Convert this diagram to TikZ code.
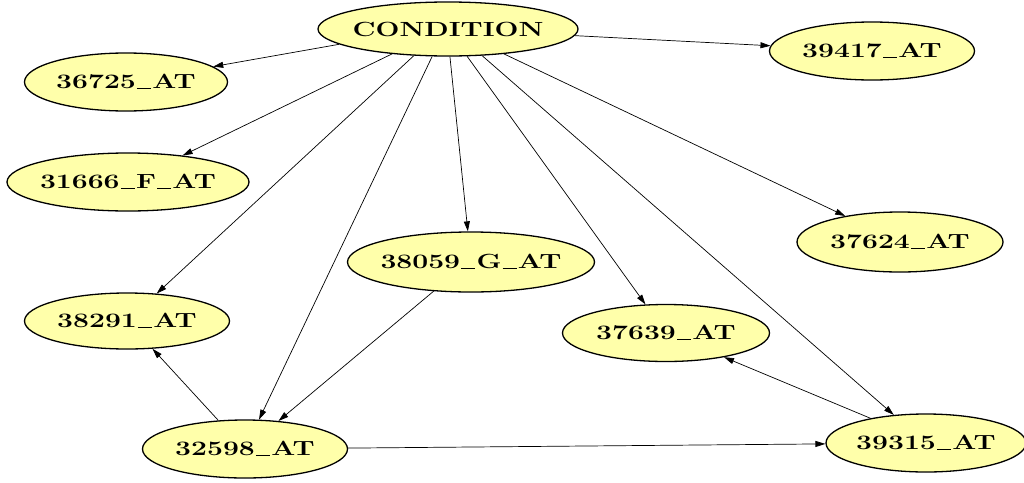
\documentclass[tikz,border=0pt]{standalone}
\usepackage{fontspec}
\usepackage{graphicx}
\usetikzlibrary{shapes.geometric,arrows.meta}
\definecolor{nodefill}{RGB}{255,255,170}
% short underscore rule used inside the labels
\newcommand\us{\kern0.04em\rule[-0.03em]{0.5em}{0.075em}\kern0.04em}
% wide bold label, centred, not affecting the node size
\newcommand\glabel[1]{\makebox[0pt]{\scalebox{1.38}[1]{\fontsize{20.5}{24}\selectfont\bfseries #1}}}
\begin{document}
\begin{tikzpicture}[x=1pt,y=-1pt,
  gene/.style={ellipse,draw=black,line width=1.3pt,fill=nodefill,
    inner sep=0pt,minimum width=#1,minimum height=58pt},
  edge/.style={draw=black,line width=0.7pt,-{Triangle[length=10pt,width=6pt]}}]
\useasboundingbox (0,0) rectangle (1024,482);

\node[gene=260pt,minimum height=54pt] (cond) at (448,29) {\glabel{CONDITION}};
\node[gene=203pt] (n36725) at (126,82)  {\glabel{36725\us AT}};
\node[gene=242pt] (n31666) at (128,182) {\glabel{31666\us F\us AT}};
\node[gene=205pt,minimum height=56pt] (n38291) at (127,321) {\glabel{38291\us AT}};
\node[gene=205pt] (n32598) at (245,449) {\glabel{32598\us AT}};
\node[gene=247pt,minimum height=60pt] (n38059) at (471,262) {\glabel{38059\us G\us AT}};
\node[gene=207pt,minimum height=57pt] (n37639) at (666,333) {\glabel{37639\us AT}};
\node[gene=200pt] (n39315) at (926,443) {\glabel{39315\us AT}};
\node[gene=206pt,minimum height=60pt] (n37624) at (900,242) {\glabel{37624\us AT}};
\node[gene=205pt] (n39417) at (872,51)  {\glabel{39417\us AT}};

\draw[edge] (cond.188) -- (n36725);
\draw[edge] (cond.204) -- (n31666);
\draw[edge] (cond.218) -- (n38291);
\draw[edge] (cond.240) -- (n32598);
\draw[edge] (cond.274) -- (n38059);
\draw[edge] (cond.305) -- (n37639);
\draw[edge] (cond.322) -- (n39315);
\draw[edge] (cond.336) -- (n37624);
\draw[edge] (cond.357) -- (n39417);

\draw[edge] (n38059.218) -- (n32598);
\draw[edge] (n32598.133) -- (n38291);
\draw[edge] (n32598) -- (n39315);
\draw[edge] (n39315.156) -- (n37639);
\end{tikzpicture}
\end{document}
